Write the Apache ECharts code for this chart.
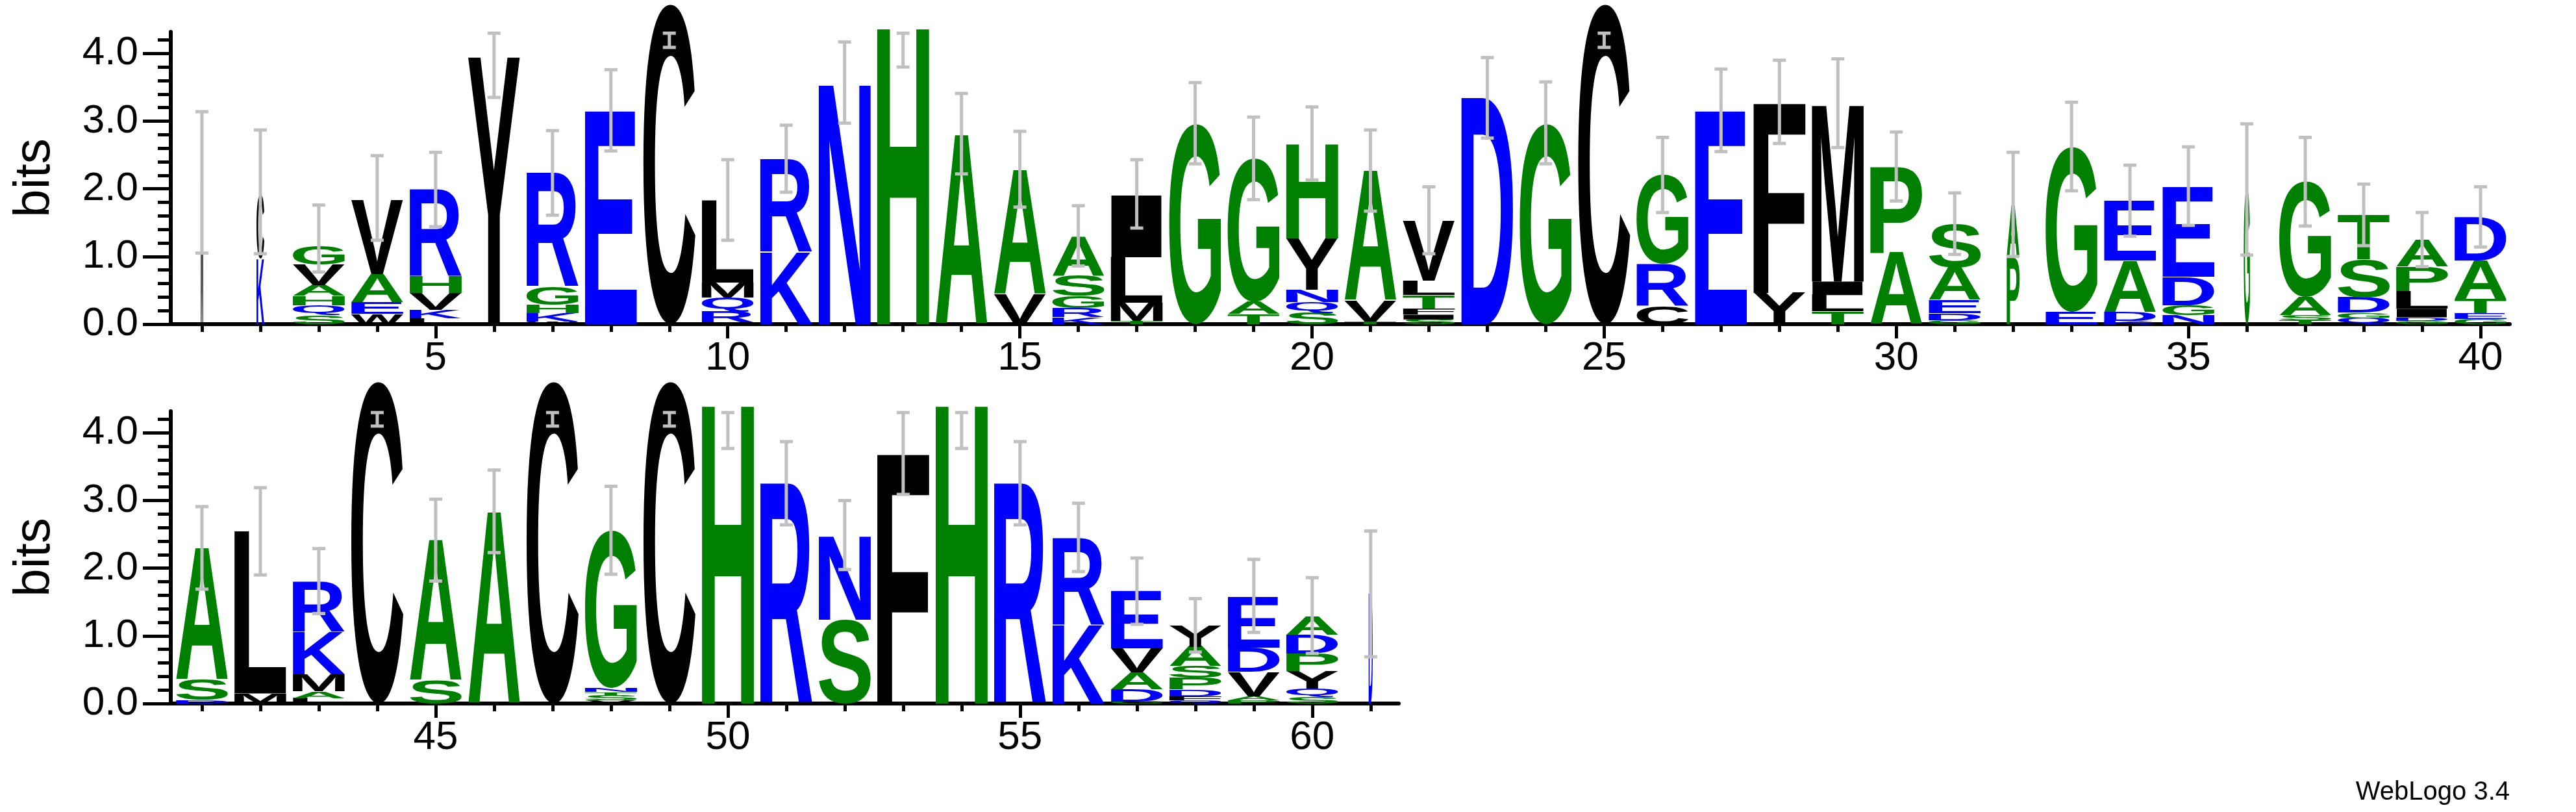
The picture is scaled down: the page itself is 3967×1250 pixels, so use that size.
<!DOCTYPE html>
<html>
<head>
<meta charset="utf-8">
<script src="https://cdn.jsdelivr.net/npm/echarts@6/dist/echarts.min.js"></script>
<style>
html, body { margin: 0; padding: 0; background: #fff; }
#chart { width: 3967px; height: 1250px; }
</style>
</head>
<body>
<div id="chart"></div>
<script>
// letters of each stack, bottom to top (position = index + 1)
var stackLetters = [
	'M', 'KC', 'SQHAVG', 'WEAV', 'LKVHR', 'Y', 'WKHGR', 'E', 'C', 'IRQML',
	'KR', 'N', 'H', 'A', 'VA', 'KRGSA', 'TMLI', 'G', 'TAG', 'SQNYH',
	'TVA', 'SIFTLV', 'D', 'G', 'C', 'CRG', 'E', 'YF', 'TLIM', 'AP',
	'GDEAS', 'PA', 'EG', 'KDAE', 'NGDE', 'G', 'TSAG', 'QGDST', 'GDILPA', 'GETAD',
	'DSA', 'ML', 'LAMKR', 'C', 'SA', 'A', 'C', 'VSTNG', 'C', 'H',
	'R', 'SN', 'F', 'H', 'R', 'KR', 'GDAVE', 'QFDPSAY', 'PAVDE', 'SQYPDA',
	'D'
];
// bits of each letter, same order
var stackBits = [
	[2.13], [0.97, 0.95], [0.13, 0.15, 0.14, 0.16, 0.3, 0.28], [0.15, 0.17, 0.42, 1.1], [0.09, 0.12, 0.25, 0.25, 1.29],
	[3.95], [0.04, 0.12, 0.12, 0.27, 1.68], [3.15], [4.73], [0.03, 0.16, 0.2, 0.22, 1.22],
	[1.07, 1.37], [3.56], [4.4], [2.8], [0.44, 1.84],
	[0.1, 0.14, 0.18, 0.3, 0.58], [0.05, 0.27, 0.67, 0.92], [2.96], [0.15, 0.18, 2.12], [0.17, 0.16, 0.18, 0.76, 1.4],
	[0.04, 0.31, 1.92], [0.07, 0.07, 0.09, 0.2, 0.21, 0.89], [3.35], [2.96], [4.73],
	[0.27, 0.62, 1.31], [3.15], [0.46, 2.82], [0.19, 0.24, 0.2, 2.62], [1.06, 1.27],
	[0.06, 0.1, 0.2, 0.48, 0.65], [0.99, 0.77], [0.18, 2.44], [0.05, 0.13, 0.76, 0.88], [0.13, 0.15, 0.42, 1.33],
	[2.0], [0.06, 0.07, 0.27, 1.71], [0.09, 0.08, 0.23, 0.56, 0.65], [0.05, 0.05, 0.13, 0.26, 0.36, 0.4], [0.08, 0.08, 0.21, 0.57, 0.64],
	[0.05, 0.3, 1.95], [0.15, 2.4], [0.08, 0.1, 0.25, 0.63, 0.74], [4.76], [0.34, 2.08],
	[2.83], [4.76], [0.05, 0.07, 0.05, 0.06, 2.33], [4.76], [4.43],
	[3.26], [1.24, 1.24], [3.71], [4.43], [3.26],
	[1.16, 1.29], [0.03, 0.18, 0.25, 0.36, 0.85], [0.05, 0.06, 0.1, 0.17, 0.17, 0.29, 0.32], [0.05, 0.06, 0.36, 0.36, 0.75], [0.1, 0.12, 0.26, 0.26, 0.28, 0.27],
	[1.62]
];
// relative stack widths (few sequences -> narrow)
var stackWidth = {1: 0.05, 2: 0.15, 32: 0.25, 36: 0.12, 61: 0.08};
// error bar ends (bits)
var errLow = [
	1.05, 1.04, 0.77, 1.24, 1.44, 3.35, 1.61, 2.56, 4.09, 1.24,
	1.95, 2.97, 3.8, 2.22, 1.73, 0.86, 1.42, 2.37, 1.84, 2.13,
	1.67, 1.04, 2.75, 2.37, 4.09, 1.65, 2.55, 2.67, 2.61, 1.82,
	1.03, 1.0, 1.97, 1.3, 1.46, 1.02, 1.45, 1.16, 0.85, 1.14,
	1.69, 1.9, 1.33, 4.1, 1.81, 2.23, 4.1, 1.91, 4.1, 3.77,
	2.64, 1.98, 3.09, 3.77, 2.64, 1.95, 1.17, 0.76, 1.05, 0.74,
	0.69
];
var errHigh = [
	3.14, 2.87, 1.76, 2.49, 2.54, 4.3, 2.86, 3.76, 4.3, 2.43,
	2.94, 4.17, 4.3, 3.41, 2.85, 1.75, 2.43, 3.57, 3.06, 3.21,
	2.87, 2.03, 3.94, 3.58, 4.3, 2.76, 3.77, 3.9, 3.92, 2.84,
	1.94, 2.54, 3.28, 2.35, 2.62, 2.96, 2.76, 2.07, 1.65, 2.03,
	2.91, 3.19, 2.29, 4.3, 3.02, 3.45, 4.3, 3.21, 4.3, 4.3,
	3.87, 3.0, 4.3, 4.3, 3.87, 2.96, 2.15, 1.55, 2.13, 1.86,
	2.55
];
var yTicks = [0, 1, 2, 3, 4];
var yMinorTicks = [0.2, 0.4, 0.6, 0.8, 1.2, 1.4, 1.6, 1.8, 2.2, 2.4, 2.6, 2.8, 3.2, 3.4, 3.6, 3.8, 4.2];
var yLabels = ['0.0', '1.0', '2.0', '3.0', '4.0'];

// hydrophobicity colours
var letterColor = function (c) {
	if ('RKDENQ'.indexOf(c) != -1) return '#0000ff';
	if ('SGHTAP'.indexOf(c) != -1) return '#008000';
	return '#000000';
};

var FONT = 'bold 200px "Liberation Sans", Arial, sans-serif';
var measureCtx = document.createElement('canvas').getContext('2d');
measureCtx.font = FONT;
measureCtx.textBaseline = 'middle';
measureCtx.textAlign = 'center';
var glyphCache = {};
var glyph = function (c) {
	if (!glyphCache[c]) {
		var m = measureCtx.measureText(c);
		glyphCache[c] = {
			l: m.actualBoundingBoxLeft, r: m.actualBoundingBoxRight,
			a: m.actualBoundingBoxAscent, d: m.actualBoundingBoxDescent
		};
	}
	return glyphCache[c];
};

// flatten stacks into letter items per panel
var letterItems = [[], []];
var errItems = [[], []];
for (var i = 0; i < stackLetters.length; i++) {
	var pos = i + 1;
	var panel = pos <= 40 ? 0 : 1;
	var w = stackWidth[pos] || 1;
	var base = 0;
	for (var j = 0; j < stackLetters[i].length; j++) {
		var h = stackBits[i][j];
		letterItems[panel].push({value: [pos, base, base + h, w], letter: stackLetters[i][j]});
		base += h;
	}
	errItems[panel].push([pos, errLow[i], errHigh[i]]);
}

var renderLetter = function (items) {
	return function (params, api) {
		var it = items[params.dataIndex];
		var c = it.letter;
		var p0 = api.coord([api.value(0), api.value(1)]);
		var p1 = api.coord([api.value(0), api.value(2)]);
		var W = api.size([api.value(3) * 0.89, 0])[0];
		var H = p0[1] - p1[1];
		if (H <= 0.5) return;
		var g = glyph(c);
		var sx = W / (g.l + g.r);
		var sy = H / (g.a + g.d);
		return {
			type: 'text',
			x: p0[0] - W / 2 + g.l * sx,
			y: p0[1] - g.d * sy,
			scaleX: sx,
			scaleY: sy,
			style: {
				text: c, x: 0, y: 0, font: FONT,
				fill: letterColor(c), align: 'center', verticalAlign: 'middle'
			}
		};
	};
};

var renderErr = function (params, api) {
	var lo = api.coord([api.value(0), api.value(1)]);
	var hi = api.coord([api.value(0), api.value(2)]);
	var st = {stroke: '#c0c0c0', lineWidth: 5};
	return {
		type: 'group',
		children: [
			{type: 'line', shape: {x1: lo[0], y1: lo[1], x2: hi[0], y2: hi[1]}, style: st},
			{type: 'line', shape: {x1: lo[0] - 10, y1: lo[1], x2: lo[0] + 10, y2: lo[1]}, style: st},
			{type: 'line', shape: {x1: hi[0] - 10, y1: hi[1], x2: hi[0] + 10, y2: hi[1]}, style: st}
		]
	};
};

var range = function (a, b, step) {
	var r = [];
	for (var v = a; v <= b; v += step) r.push(v);
	return r;
};

var labelFont = {fontFamily: '"Liberation Sans Narrow", "Liberation Sans", sans-serif', fontSize: 62, color: '#000'};
var grids = [
	{left: 263, top: 49, width: 3602, height: 450},
	{left: 263, top: 633, width: 1891, height: 450}
];
var xRanges = [[0.467, 40.5, 1, 40, 5], [40.467, 61.48, 41, 61, 45]];

var xAxis = [], yAxis = [], series = [];
for (var g = 0; g < 2; g++) {
	var xr = xRanges[g];
	// minor position ticks
	xAxis.push({
		gridIndex: g, type: 'value', min: xr[0], max: xr[1], position: 'bottom',
		axisLine: {show: true, lineStyle: {color: '#000', width: 6}},
		axisTick: {show: true, customValues: range(xr[2], xr[3], 1), length: 12, lineStyle: {color: '#000', width: 5}},
		axisLabel: {show: false}, splitLine: {show: false}
	});
	// labelled ticks every 5
	xAxis.push({
		gridIndex: g, type: 'value', min: xr[0], max: xr[1], position: 'bottom',
		axisLine: {show: false},
		axisTick: {show: true, customValues: range(xr[4], xr[3], 5), length: 22, lineStyle: {color: '#000', width: 5}},
		axisLabel: {show: true, customValues: range(xr[4], xr[3], 5), margin: 22,
			fontFamily: labelFont.fontFamily, fontSize: labelFont.fontSize, color: '#000'},
		splitLine: {show: false}
	});
	yAxis.push({
		gridIndex: g, type: 'value', min: 0, max: 4.32,
		name: 'bits', nameLocation: 'middle', nameGap: 170, nameRotate: 90,
		nameTextStyle: {fontFamily: '"Liberation Sans", sans-serif', fontSize: 78, color: '#000'},
		axisLine: {show: true, lineStyle: {color: '#000', width: 6}},
		axisTick: {show: true, customValues: yTicks, length: 43, lineStyle: {color: '#000', width: 5}},
		axisLabel: {show: true, customValues: yTicks, margin: 50,
			formatter: function (v) { return yLabels[yTicks.indexOf(v)]; },
			fontFamily: labelFont.fontFamily, fontSize: labelFont.fontSize, color: '#000'},
		splitLine: {show: false}
	});
	yAxis.push({
		gridIndex: g, type: 'value', min: 0, max: 4.32, position: 'left',
		axisLine: {show: false},
		axisTick: {show: true, customValues: yMinorTicks, length: 20, lineStyle: {color: '#000', width: 5}},
		axisLabel: {show: false}, splitLine: {show: false}
	});
	series.push({
		type: 'custom', xAxisIndex: g * 2, yAxisIndex: g * 2, clip: false,
		renderItem: renderLetter(letterItems[g]),
		data: letterItems[g].map(function (d) { return d.value; }),
		animation: false
	});
	series.push({
		type: 'custom', xAxisIndex: g * 2, yAxisIndex: g * 2, clip: false, z: 5,
		renderItem: renderErr, data: errItems[g], animation: false
	});
}

var chart = echarts.init(document.getElementById('chart'));
chart.setOption({
	backgroundColor: '#fff',
	animation: false,
	grid: grids,
	xAxis: xAxis,
	yAxis: yAxis,
	series: series,
	graphic: [{
		type: 'text', right: 102, bottom: 10,
		style: {text: 'WebLogo 3.4', font: '40px "Liberation Sans", sans-serif', fill: '#000'}
	}]
});
</script>
</body>
</html>
